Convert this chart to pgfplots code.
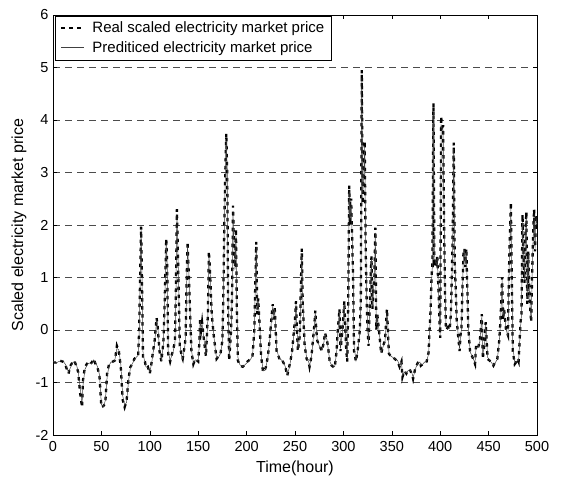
\documentclass[border=0pt]{standalone}
\usepackage{fontspec}
\setmainfont{Liberation Sans}
\usepackage{pgfplots}
\usepackage{pgfplotstable}
\pgfplotsset{compat=1.18}

\pgfplotstableread{
h real pred
0 -0.62 -0.60
3 -0.62 -0.63
6 -0.58 -0.60
10 -0.60 -0.58
13 -0.68 -0.66
16 -0.83 -0.80
18 -0.68 -0.72
20 -0.62 -0.63
22 -0.58 -0.60
24 -0.68 -0.65
26 -0.80 -0.78
28 -1.20 -1.10
30 -1.47 -1.40
31 -0.95 -1.05
33 -0.70 -0.75
36 -0.62 -0.64
38 -0.66 -0.63
40 -0.62 -0.64
42 -0.55 -0.57
44 -0.65 -0.62
46 -0.72 -0.70
48 -0.87 -0.85
50 -1.47 -1.42
52 -1.45 -1.46
54 -1.40 -1.35
56 -0.80 -0.88
58 -0.65 -0.67
60 -0.62 -0.61
62 -0.60 -0.62
64 -0.58 -0.56
66 -0.30 -0.35
68 -0.40 -0.38
70 -0.70 -0.65
72 -1.33 -1.25
74 -1.47 -1.43
76 -1.35 -1.38
78 -0.93 -0.98
80 -0.70 -0.72
82 -0.65 -0.64
84 -0.55 -0.57
86 -0.52 -0.52
88 -0.50 -0.48
89 0.00 -0.10
90 1.00 0.90
91 1.97 1.90
92 0.80 0.95
93 -0.55 -0.45
95 -0.60 -0.62
96 -0.72 -0.70
98 -0.70 -0.72
100 -0.83 -0.80
102 -0.60 -0.63
103 -0.45 -0.48
105 -0.20 -0.25
107 0.23 0.18
108 0.10 0.12
110 -0.40 -0.35
112 -0.60 -0.58
114 -0.23 -0.28
115 0.30 0.25
116 1.00 0.95
117 1.74 1.65
118 1.20 1.25
119 -0.45 -0.40
121 -0.60 -0.58
123 -0.45 -0.47
124 -0.40 -0.42
126 -0.20 -0.25
127 0.80 0.70
128 2.30 2.20
129 1.50 1.55
131 -0.30 -0.25
133 -0.50 -0.52
134 -0.55 -0.55
136 -0.30 -0.33
137 -0.15 -0.18
138 0.90 0.80
139 1.68 1.60
140 1.20 1.25
141 0.70 0.72
143 -0.40 -0.38
145 -0.65 -0.62
147 -0.55 -0.57
150 -0.60 -0.58
151 -0.30 -0.33
152 0.23 0.18
153 0.00 0.03
154 0.15 0.12
156 -0.20 -0.18
158 -0.50 -0.48
160 0.30 0.20
161 1.50 1.40
162 1.20 1.25
164 0.30 0.35
166 -0.10 -0.08
168 -0.40 -0.42
169 -0.55 -0.53
171 -0.50 -0.52
173 -0.45 -0.45
175 -0.20 -0.23
176 0.68 0.60
177 2.05 1.95
178 3.00 2.90
179 3.74 3.60
180 3.00 3.10
181 0.30 0.40
182 -0.58 -0.50
184 0.00 -0.05
185 0.70 0.65
186 2.37 2.25
187 1.50 1.55
188 1.20 1.15
189 1.93 1.85
190 0.30 0.40
191 -0.58 -0.52
193 -0.68 -0.66
196 -0.70 -0.70
198 -0.66 -0.67
201 -0.60 -0.61
204 -0.55 -0.56
206 -0.52 -0.50
208 0.00 -0.05
209 0.90 0.85
210 1.68 1.58
211 0.30 0.40
212 0.60 0.55
213 0.25 0.30
215 -0.50 -0.45
217 -0.80 -0.78
219 -0.75 -0.77
220 -0.70 -0.70
222 -0.50 -0.52
224 -0.15 -0.18
226 0.30 0.25
227 0.49 0.45
228 0.20 0.25
229 0.45 0.40
231 -0.40 -0.35
233 -0.50 -0.50
234 -0.56 -0.55
236 -0.55 -0.57
238 -0.62 -0.61
240 -0.70 -0.70
242 -0.87 -0.84
244 -0.70 -0.73
245 -0.62 -0.63
247 -0.40 -0.42
248 -0.20 -0.23
250 0.20 0.15
251 0.55 0.50
252 0.00 0.05
253 -0.40 -0.37
255 -0.10 -0.12
256 0.80 0.70
257 1.55 1.45
258 0.50 0.60
260 -0.30 -0.25
262 -0.55 -0.53
264 -0.60 -0.60
265 -0.70 -0.68
267 -0.50 -0.52
268 -0.30 -0.33
270 0.10 0.05
271 0.37 0.33
272 0.00 0.04
273 -0.20 -0.18
275 -0.30 -0.30
278 -0.40 -0.38
280 -0.20 -0.22
281 -0.05 -0.08
283 -0.20 -0.18
284 -0.30 -0.32
286 -0.62 -0.60
288 -0.68 -0.68
291 -0.72 -0.70
293 -0.40 -0.43
294 -0.05 -0.10
296 0.40 0.35
297 -0.40 -0.35
299 0.00 -0.03
301 0.55 0.50
302 0.00 0.05
303 -0.40 -0.37
304 -0.60 -0.55
305 0.50 0.40
306 2.75 2.65
307 2.00 2.10
308 2.50 2.45
309 1.80 1.85
310 1.00 1.05
311 -0.40 -0.30
313 -0.60 -0.58
315 -0.35 -0.38
317 0.00 -0.05
318 0.55 0.50
319 4.95 4.80
320 2.40 2.60
321 3.00 2.95
322 3.60 3.50
323 1.55 1.65
324 0.60 0.65
325 0.00 0.05
326 -0.30 -0.25
327 0.30 0.25
328 0.90 0.85
329 1.40 1.35
330 0.40 0.45
331 0.80 0.75
332 1.00 1.00
333 1.95 1.85
334 0.00 0.10
335 0.30 0.25
337 -0.05 -0.03
339 -0.45 -0.42
341 -0.30 -0.32
343 -0.20 -0.22
345 0.40 0.35
346 0.00 0.05
347 -0.45 -0.42
349 -0.50 -0.50
351 -0.50 -0.52
353 -0.55 -0.55
356 -0.60 -0.58
358 -0.70 -0.68
360 -0.60 -0.62
361 -0.90 -0.86
363 -0.78 -0.80
365 -0.83 -0.82
367 -0.75 -0.77
369 -0.77 -0.76
371 -0.85 -0.83
372 -0.93 -0.90
374 -0.75 -0.78
375 -0.70 -0.71
377 -0.62 -0.63
379 -0.60 -0.61
380 -0.68 -0.66
382 -0.65 -0.65
384 -0.60 -0.61
386 -0.60 -0.59
388 -0.43 -0.46
389 0.00 -0.08
390 0.36 0.30
391 0.98 0.90
392 1.30 1.25
393 4.32 4.15
394 1.30 1.45
395 1.35 1.30
396 1.20 1.25
397 1.40 1.35
398 0.85 0.90
399 0.30 0.35
400 -0.15 -0.10
401 4.07 3.90
402 3.80 3.85
403 3.90 3.80
404 2.00 2.20
405 0.70 0.80
406 0.00 0.05
408 0.05 0.03
409 0.00 0.02
410 0.05 0.05
411 0.30 0.25
412 1.00 0.90
413 1.95 1.85
414 3.57 3.45
415 1.30 1.45
416 0.80 0.85
417 0.20 0.25
418 0.00 0.02
420 -0.40 -0.35
421 -0.10 -0.13
422 0.05 0.02
423 0.80 0.70
424 1.45 1.40
425 1.55 1.50
426 1.20 1.25
427 1.55 1.50
428 0.80 0.85
429 0.05 0.10
430 -0.20 -0.18
431 -0.45 -0.42
433 -0.50 -0.50
434 -0.55 -0.54
436 -0.65 -0.63
437 -0.30 -0.33
439 -0.35 -0.34
441 -0.20 -0.22
443 0.30 0.25
444 -0.55 -0.48
446 -0.20 -0.23
447 0.15 0.10
448 -0.20 -0.17
449 -0.55 -0.52
452 -0.60 -0.60
455 -0.68 -0.67
457 -0.60 -0.62
459 -0.55 -0.56
461 -0.20 -0.23
462 0.10 0.05
463 0.50 0.45
464 1.00 0.95
465 0.20 0.25
466 0.40 0.38
468 0.00 0.02
470 -0.10 -0.12
471 1.10 1.00
472 1.80 1.70
473 2.43 2.30
474 0.90 1.00
475 -0.40 -0.30
477 -0.65 -0.62
479 -0.60 -0.61
480 -0.55 -0.56
481 -0.60 -0.58
483 0.15 0.05
484 0.30 0.30
485 2.20 2.05
486 1.50 1.55
487 0.90 0.95
488 1.80 1.75
489 2.25 2.15
490 0.50 0.60
491 1.50 1.45
492 0.80 0.85
493 0.40 0.42
494 0.15 0.18
495 1.10 1.05
496 1.80 1.75
497 2.30 2.20
498 1.50 1.55
499 2.20 2.15
500 2.00 2.00
}\pricedata

\begin{document}
\begin{tikzpicture}
\useasboundingbox (-53pt,-47pt) rectangle (509pt,435pt);
\begin{axis}[
  at={(0pt,0pt)}, anchor=south west,
  scale only axis, width=484pt, height=420pt,
  xmin=0, xmax=500, ymin=-2, ymax=6,
  xtick={0,50,...,500}, ytick={-2,-1,...,6},
  tick align=inside, major tick length=4pt,
  ymajorgrids,
  grid style={dash pattern=on 7pt off 5pt, black!70, line width=0.5pt},
  axis line style={line width=0.6pt},
  every tick/.style={black, line width=0.5pt},
  ticklabel style={font=\fontsize{14.5}{17}\selectfont},
  xticklabel style={yshift=-3pt},
  yticklabel style={xshift=-1pt},
  /pgf/number format/assume math mode=true,
  xlabel={Time(hour)},
  ylabel={Scaled electricity market price},
  label style={font=\fontsize{16}{18}\selectfont},
  xlabel style={at={(axis description cs:0.5,-0.0786)}, anchor=center},
  ylabel style={at={(axis description cs:-0.0702,0.5)}, anchor=center, rotate=0},
  legend style={at={(axis description cs:0.004,0.998)}, anchor=north west,
     draw=black, line width=0.5pt, font=\fontsize{15}{17}\selectfont,
     inner xsep=5pt, inner ysep=4pt, row sep=3pt, cells={anchor=west}},
  legend cell align=left,
  legend image code/.code={\draw[#1] (0pt,0pt) -- (23pt,0pt); \path (28pt,0pt);},
]
\addplot[black, line width=2.3pt, dash pattern=on 3.5pt off 4.5pt] table[x=h, y=real] {\pricedata};
\addlegendentry{Real scaled electricity market price}
\addplot[black!75, line width=0.5pt] table[x=h, y=pred] {\pricedata};
\addlegendentry{Prediticed electricity market price}
\end{axis}
\end{tikzpicture}
\end{document}
